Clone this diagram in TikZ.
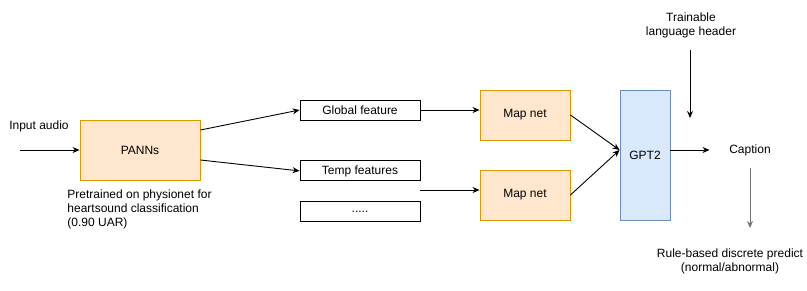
\documentclass[tikz,border=0pt]{standalone}
\usepackage{fontspec}
\setmainfont{Liberation Sans}
\usetikzlibrary{positioning,arrows.meta}

\definecolor{panfill}{HTML}{FFE6CC}
\definecolor{panline}{HTML}{D79B00}
\definecolor{gptfill}{HTML}{DAE8FC}
\definecolor{gptline}{HTML}{6C8EBF}

\begin{document}
\begin{tikzpicture}[x=1pt,y=-1pt,font=\fontsize{12}{14}\selectfont,
    >={Stealth[length=7pt,width=6pt]},line width=0.9pt,
    netbox/.style={draw=panline,fill=panfill,inner sep=0pt},
    feat/.style={draw,minimum width=120,minimum height=20,inner sep=0pt},
    txt/.style={align=center,inner sep=0pt}]
    \useasboundingbox (0,0) rectangle (807,290);

    \node[txt] (input) at (39,126) {Input audio};
    \coordinate (src) at (20,150);
    \node[netbox,minimum width=120,minimum height=60] (panns) at (140,150) {PANNs};
    \node[txt,align=left,anchor=north west] (pre) at (67,189)
        {Pretrained on physionet for\\heartsound classification\\(0.90 UAR)};

    \node[feat] (glob) at (360,110) {Global feature};
    \node[feat] (temp) [below=40pt of glob] {Temp features};
    \node[feat] (more) [below=20pt of temp] {.....};

    \node[netbox,minimum width=90,minimum height=50] (map1) at (525,115) {Map net};
    \node[netbox,minimum width=90,minimum height=50] (map2) at (525,195) {Map net};
    \coordinate (tempout) at (420,190);

    \node[draw=gptline,fill=gptfill,minimum width=50,minimum height=130] (gpt) at (645,155) {GPT2};
    \node[txt,minimum width=80] (cap) at (750,150) {Caption};

    \node[txt] (head) at (691,25) {Trainable\\language header};
    \coordinate (headtop) at (690,50);
    \coordinate (headend) at (690,118);

    \coordinate (captop) at (750,168);
    \coordinate (capend) at (750,228);
    \node[txt] (rule) at (730,261) {Rule-based discrete predict\\(normal/abnormal)};

    \draw[->] (src) -- (panns);
    \draw[->] ([yshift=20pt]panns.east) -- (glob.west);
    \draw[->] ([yshift=-10pt]panns.east) -- (temp.west);
    \draw[->] (glob) -- (map1.west |- glob);
    \draw[->] (tempout) -- (map2.west |- tempout);
    \draw[->] (map1.east) -- ([yshift=5pt]gpt.west);
    \draw[->] (map2.east) -- ([yshift=5pt]gpt.west);
    \draw[->] ([yshift=5pt]gpt.east) -- (cap.west);
    \draw[->] (headtop) -- (headend);
    \draw[->,draw=black!55] (captop) -- (capend);
\end{tikzpicture}
\end{document}
